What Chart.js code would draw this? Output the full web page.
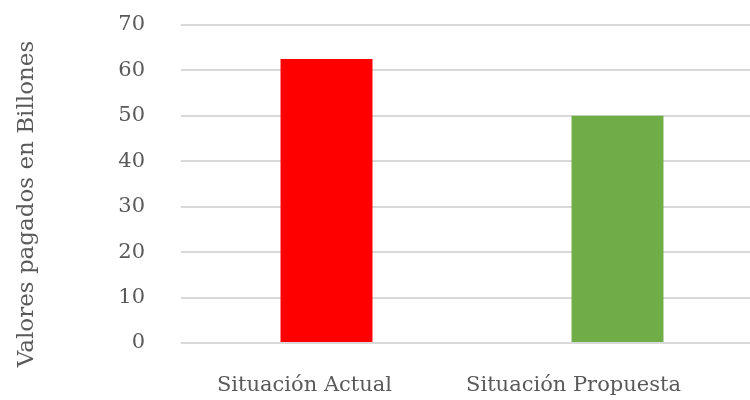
<!DOCTYPE html>
<html>
<head>
<meta charset="utf-8">
<script src="https://cdn.jsdelivr.net/npm/chart.js@4"></script>
<style>
    html, body { margin: 0; padding: 0; background: #fff; overflow: hidden; }
    #wrap { width: 770px; height: 400px; }
</style>
</head>
<body>
<div id="wrap"><canvas id="chart"></canvas></div>
<script>
// Chart data
const categories = ['Situación Actual', 'Situación Propuesta'];
const values = [62.5, 50];
const barColors = ['#ff0000', '#70ad47'];
const yTicks = [0, 10, 20, 30, 40, 50, 60, 70];
const yTitle = 'Valores pagados en Billones';

const textColor = '#595959';
const fontFamily = '"DejaVu Serif", serif';

// the original has its category labels sitting left of the bars,
// and the y title a bit below the plot centre, so draw those ourselves
const labelShift = [-22, -44];

const textPlugin = {
    id: 'textPlugin',
    afterDraw(chart) {
        const c = chart.ctx;
        const area = chart.chartArea;
        const xScale = chart.scales.x;
        c.save();
        c.fillStyle = textColor;

        c.font = '21px ' + fontFamily;
        c.textAlign = 'center';
        c.textBaseline = 'middle';
        categories.forEach((label, i) => {
            c.fillText(label, xScale.getPixelForValue(i) + labelShift[i], area.bottom + 43);
        });

        c.translate(27, (area.top + area.bottom) / 2 + 20);
        c.rotate(-Math.PI / 2);
        c.font = '23px ' + fontFamily;
        c.fillText(yTitle, 0, 0);
        c.restore();
    }
};

const ctx = document.getElementById('chart').getContext('2d');
new Chart(ctx, {
    type: 'bar',
    data: {
        labels: categories,
        datasets: [{
            data: values,
            backgroundColor: barColors,
            barPercentage: 1,
            categoryPercentage: 0.316
        }]
    },
    options: {
        responsive: true,
        maintainAspectRatio: false,
        animation: false,
        layout: {
            padding: { left: 0, right: 7, top: 25, bottom: 0 }
        },
        plugins: {
            legend: { display: false },
            tooltip: { enabled: false }
        },
        scales: {
            x: {
                grid: { display: false, drawTicks: false },
                border: { display: false },
                ticks: { display: false },
                afterFit: (axis) => { axis.height = 57; }
            },
            y: {
                min: yTicks[0],
                max: yTicks[yTicks.length - 1],
                afterBuildTicks: (axis) => {
                    axis.ticks = yTicks.map(v => ({ value: v }));
                },
                grid: { color: '#d9d9d9', lineWidth: 2, drawTicks: true, tickLength: 36, tickColor: 'rgba(0,0,0,0)' },
                border: { display: false },
                ticks: {
                    color: textColor,
                    font: { family: fontFamily, size: 21 },
                    padding: 0
                },
                afterFit: (axis) => { axis.width = 181; }
            }
        }
    },
    plugins: [textPlugin]
});
</script>
</body>
</html>
